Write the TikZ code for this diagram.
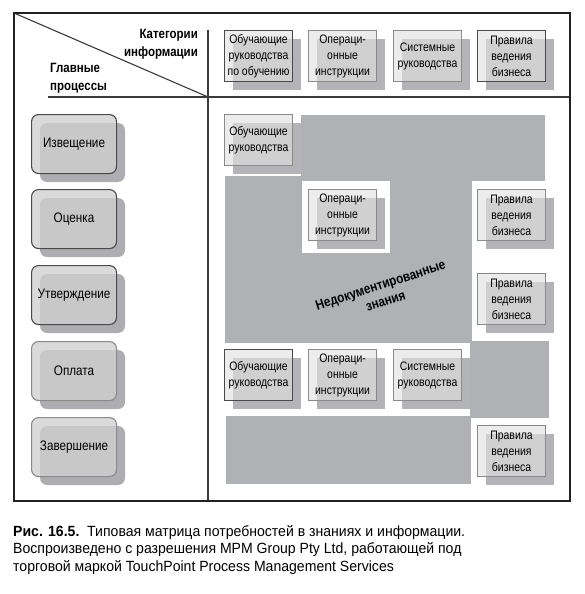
\documentclass[tikz,border=0pt]{standalone}
\usepackage{fontspec}
\setmainfont{Liberation Sans}[FakeStretch=0.85]
\newfontfamily\capfont{Liberation Sans}[FakeStretch=0.95]
\definecolor{framec}{HTML}{222222}
\definecolor{linec}{HTML}{3A3A3A}
\definecolor{regiongray}{HTML}{B0B1B5}
\definecolor{shadowc}{HTML}{B4B4B8}
\definecolor{boxfill}{HTML}{E1E1E1}
\definecolor{boxdark}{HTML}{4A4A4A}
\definecolor{boxlight}{HTML}{8A8A8A}
\definecolor{pfill}{HTML}{D0D0D0}
\definecolor{pshadowc}{HTML}{AEAEB2}
\tikzset{
  infobox/.style={draw=boxlight, line width=1.1pt, fill=boxfill, fill opacity=0.63, text opacity=1,
    minimum width=68pt, minimum height=51pt, inner sep=1pt, align=center,
    font=\fontsize{12.3}{16}\selectfont, anchor=north west},
  darkbox/.style={infobox, draw=boxdark},
  procbox/.style={draw=boxdark, line width=1.1pt, fill=pfill, fill opacity=0.78, text opacity=1,
    rounded corners=7pt, minimum width=85pt, minimum height=59pt, inner sep=1pt,
    font=\fontsize{13.8}{15}\selectfont, anchor=north west},
  lightproc/.style={procbox, draw=boxlight},
  hdr/.style={font=\bfseries\fontsize{13.5}{18}\selectfont, inner sep=0pt},
}
\newcommand\ibox[5][infobox]{%
  \fill[shadowc] (#3+9,#4+9) rectangle ++(68,51);
  \node[#1] (#2) at (#3,#4) {#5};}
\newcommand\pbox[4][procbox]{%
  \fill[pshadowc, rounded corners=7pt] (40,#3+9) rectangle ++(85,59);
  \node[#1] (#2) at (31,#3) {#4};}
\begin{document}
\begin{tikzpicture}[x=1pt,y=-1pt]
\useasboundingbox (0,0) rectangle (585,594);
% gray regions
\fill[regiongray] (301,115) rectangle (545,181);
\fill[regiongray] (225,176) rectangle (472,343);
\fill[white] (302,181) rectangle (390,253);
\fill[regiongray] (470,341) rectangle (549,418);
\fill[regiongray] (226,416) rectangle (471,484);
% frame and dividers
\coordinate (tl) at (14,13);
\coordinate (br) at (570,501);
\coordinate (vtop) at (208,30);
\coordinate (cross) at (208,97);
\coordinate (vbot) at (208,501);
\coordinate (hl) at (48,97);
\coordinate (hr) at (570,97);
\draw[linec, line width=1.5pt] (vtop) -- (vbot);
\draw[linec, line width=1.5pt] (hl) -- (hr);
\draw[linec, line width=1.1pt] (tl) -- (cross);
\draw[framec, line width=2.4pt] (tl) rectangle (br);
% header labels
\node[hdr, anchor=east, align=right] (cat) at (198,44) {Категории\\информации};
\node[hdr, anchor=west, align=left] (proc) at (50,78) {Главные\\процессы};
% header boxes
\ibox[darkbox]{h1}{224}{30}{Обучающие\\руководства\\по обучению}
\ibox{h2}{308}{30}{Операци-\\онные\\инструкции}
\ibox{h3}{393}{30}{Системные\\руководства}
\ibox[darkbox]{h4}{477}{30}{Правила\\ведения\\бизнеса}
% body boxes
\ibox{b1}{224}{114}{Обучающие\\руководства}
\ibox{b2}{308}{189}{Операци-\\онные\\инструкции}
\ibox{b3}{477}{189}{Правила\\ведения\\бизнеса}
\ibox{b4}{477}{273}{Правила\\ведения\\бизнеса}
\ibox[darkbox]{b5}{224}{349}{Обучающие\\руководства}
\ibox{b6}{308}{349}{Операци-\\онные\\инструкции}
\ibox{b7}{393}{349}{Системные\\руководства}
\ibox{b8}{477}{425}{Правила\\ведения\\бизнеса}
% rotated label
\node[rotate=18, align=center, font=\bfseries\fontsize{13.8}{16.5}\selectfont] (undoc) at (383,293) {Недокументированные\\знания};
% process boxes
\pbox{p1}{114}{Извещение}
\pbox{p2}{189}{Оценка}
\pbox{p3}{265}{Утверждение}
\pbox[lightproc]{p4}{341}{Оплата}
\pbox[lightproc]{p5}{417}{Завершение}
% caption
\node[anchor=north west, align=left, inner sep=0pt, font=\capfont\fontsize{14.8}{17.8}\selectfont] (cap) at (13,525)
  {\textbf{Рис. 16.5.}\ \ Типовая матрица потребностей в знаниях и информации.\\
   Воспроизведено с разрешения MPM Group Pty Ltd, работающей под\\
   торговой маркой TouchPoint Process Management Services};
\end{tikzpicture}
\end{document}
